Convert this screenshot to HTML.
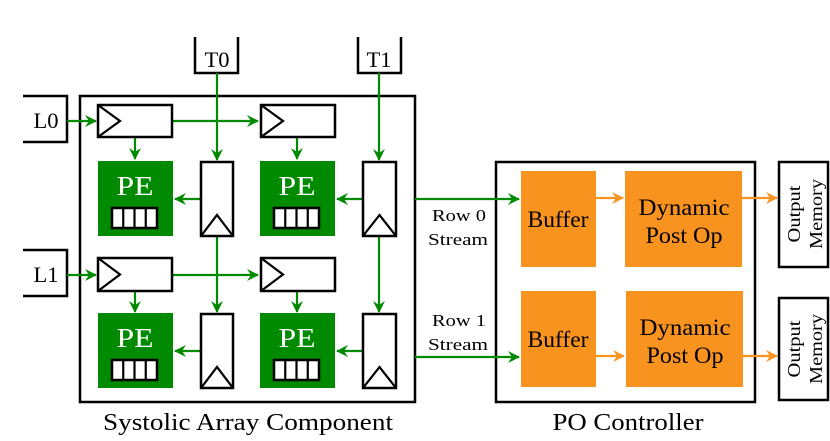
<!DOCTYPE html>
<html><head><style>body{margin:0;background:#fff}svg{display:block}text{font-family:"Liberation Serif",serif}</style></head><body>
<svg width="830" height="441" viewBox="0 0 830 441" xmlns="http://www.w3.org/2000/svg">
<defs>
<marker id="g" markerWidth="12" markerHeight="12" refX="11" refY="6" orient="auto" markerUnits="userSpaceOnUse"><path d="M0,0 L12,6 L0,12 L4,6 Z" fill="#008a00"/></marker>
<marker id="o" markerWidth="12" markerHeight="12" refX="11" refY="6" orient="auto" markerUnits="userSpaceOnUse"><path d="M0,0 L12,6 L0,12 L4,6 Z" fill="#f7931e"/></marker>
</defs>
<g fill="none" stroke="#000" stroke-width="2.5">
<rect x="80" y="96" width="335" height="306"/>
<rect x="496" y="162" width="259" height="240"/>
<path d="M195,37 V73 H238 V37"/>
<path d="M358,37 V73 H401 V37"/>
<path d="M23,96 H67 V142 H23"/>
<path d="M23,250 H67 V296 H23"/>
<rect x="779" y="162" width="49" height="105"/>
<rect x="779" y="298" width="49" height="102"/>
</g>
<g font-size="22" text-anchor="middle" fill="#000" lengthAdjust="spacingAndGlyphs">
<text x="217" y="67" textLength="25" lengthAdjust="spacingAndGlyphs">T0</text><text x="379" y="67" textLength="25" lengthAdjust="spacingAndGlyphs">T1</text>
<text x="46" y="128" textLength="25" lengthAdjust="spacingAndGlyphs">L0</text><text x="46" y="282" textLength="25" lengthAdjust="spacingAndGlyphs">L1</text>
<text x="248" y="430" font-size="24" textLength="290" lengthAdjust="spacingAndGlyphs">Systolic Array Component</text>
<text x="628" y="430" font-size="24" textLength="151" lengthAdjust="spacingAndGlyphs">PO Controller</text>
<text x="459" y="221" font-size="17" textLength="54" lengthAdjust="spacingAndGlyphs">Row 0</text><text x="458" y="245" font-size="17" textLength="60" lengthAdjust="spacingAndGlyphs">Stream</text>
<text x="459" y="326" font-size="17" textLength="54" lengthAdjust="spacingAndGlyphs">Row 1</text><text x="458" y="350" font-size="17" textLength="60" lengthAdjust="spacingAndGlyphs">Stream</text>
</g>
<g fill="none" stroke="#008a00" stroke-width="2.2">
<path d="M67,121 H96" marker-end="url(#g)"/>
<path d="M173,121 H258" marker-end="url(#g)"/>
<path d="M67,275 H96" marker-end="url(#g)"/>
<path d="M173,275 H258" marker-end="url(#g)"/>
<path d="M217,73 V160" marker-end="url(#g)"/>
<path d="M217,236 V312" marker-end="url(#g)"/>
<path d="M379,73 V160" marker-end="url(#g)"/>
<path d="M379,236 V312" marker-end="url(#g)"/>
<path d="M135,137 V159" marker-end="url(#g)"/>
<path d="M297,137 V159" marker-end="url(#g)"/>
<path d="M135,291 V312" marker-end="url(#g)"/>
<path d="M297,291 V312" marker-end="url(#g)"/>
<path d="M200,199 H175" marker-end="url(#g)"/>
<path d="M363,199 H337" marker-end="url(#g)"/>
<path d="M200,351 H175" marker-end="url(#g)"/>
<path d="M363,351 H337" marker-end="url(#g)"/>
<path d="M415,199 H519" marker-end="url(#g)"/>
<path d="M415,357 H519" marker-end="url(#g)"/>
</g>
<g fill="#008a00">
<rect x="98" y="161" width="75" height="75"/><rect x="260" y="161" width="75" height="75"/>
<rect x="98" y="313" width="75" height="75"/><rect x="260" y="313" width="75" height="75"/>
</g>
<g font-size="27" fill="#fff" text-anchor="middle">
<text x="135" y="195" textLength="37" lengthAdjust="spacingAndGlyphs">PE</text><text x="297" y="195" textLength="37" lengthAdjust="spacingAndGlyphs">PE</text>
<text x="135" y="347" textLength="37" lengthAdjust="spacingAndGlyphs">PE</text><text x="297" y="347" textLength="37" lengthAdjust="spacingAndGlyphs">PE</text>
</g>
<g stroke="#000" stroke-width="2.5" fill="#fff">
<rect x="112" y="208" width="45" height="20"/><rect x="274" y="208" width="45" height="20"/>
<rect x="112" y="360" width="45" height="20"/><rect x="274" y="360" width="45" height="20"/>
<rect x="98" y="105" width="74" height="32"/><rect x="261" y="105" width="74" height="32"/>
<rect x="98" y="258" width="74" height="33"/><rect x="261" y="258" width="74" height="33"/>
<rect x="201" y="162" width="32" height="74"/><rect x="363" y="162" width="33" height="74"/>
<rect x="201" y="314" width="32" height="74"/><rect x="363" y="314" width="33" height="74"/>
</g>
<g stroke="#000" stroke-width="2.2" fill="none">
<path d="M123.25,208V228M134.5,208V228M145.75,208V228"/>
<path d="M285.25,208V228M296.5,208V228M307.75,208V228"/>
<path d="M123.25,360V380M134.5,360V380M145.75,360V380"/>
<path d="M285.25,360V380M296.5,360V380M307.75,360V380"/>
<path d="M98,105 L120,121 L98,137"/><path d="M261,105 L283,121 L261,137"/>
<path d="M98,258 L120,274.5 L98,291"/><path d="M261,258 L283,274.5 L261,291"/>
<path d="M201,236 L217,215 L233,236"/><path d="M363,236 L379.5,215 L396,236"/>
<path d="M201,388 L217,367 L233,388"/><path d="M363,388 L379.5,367 L396,388"/>
</g>
<g fill="#f7931e">
<rect x="521" y="171" width="75" height="96"/><rect x="625" y="171" width="117" height="96"/>
<rect x="521" y="291" width="75" height="96"/><rect x="626" y="291" width="117" height="96"/>
</g>
<g fill="none" stroke="#f7931e" stroke-width="2.2">
<path d="M596,198 H623" marker-end="url(#o)"/>
<path d="M742,198 H777" marker-end="url(#o)"/>
<path d="M596,356 H624" marker-end="url(#o)"/>
<path d="M743,356 H777" marker-end="url(#o)"/>
</g>
<g font-size="23" fill="#000" text-anchor="middle">
<text x="558" y="227" textLength="61" lengthAdjust="spacingAndGlyphs">Buffer</text><text x="558" y="347" textLength="61" lengthAdjust="spacingAndGlyphs">Buffer</text>
<text x="684" y="215" textLength="91" lengthAdjust="spacingAndGlyphs">Dynamic</text><text x="684" y="243" textLength="77" lengthAdjust="spacingAndGlyphs">Post Op</text>
<text x="685" y="335" textLength="91" lengthAdjust="spacingAndGlyphs">Dynamic</text><text x="685" y="363" textLength="77" lengthAdjust="spacingAndGlyphs">Post Op</text>
</g>
<g font-size="18" fill="#000" text-anchor="middle">
<text transform="translate(800,214) rotate(-90)" textLength="57" lengthAdjust="spacingAndGlyphs">Output</text>
<text transform="translate(822,214) rotate(-90)" textLength="70" lengthAdjust="spacingAndGlyphs">Memory</text>
<text transform="translate(800,349) rotate(-90)" textLength="57" lengthAdjust="spacingAndGlyphs">Output</text>
<text transform="translate(822,349) rotate(-90)" textLength="70" lengthAdjust="spacingAndGlyphs">Memory</text>
</g>
</svg>
</body></html>
